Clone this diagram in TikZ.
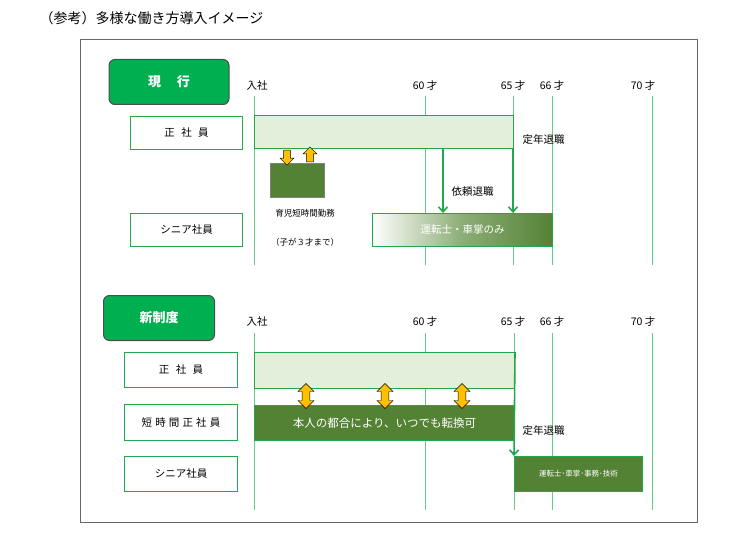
\documentclass[tikz,border=0pt]{standalone}
\usepackage{fontspec}
\setmainfont{Noto Sans CJK JP}
\usetikzlibrary{arrows.meta,shapes.arrows}
\definecolor{hgreen}{HTML}{00B050}
\definecolor{lgreen}{HTML}{E2EFDA}
\definecolor{dgreen}{HTML}{548235}
\definecolor{bgreen}{HTML}{22A84A}
\definecolor{vgreen}{HTML}{66CC88}
\definecolor{orng}{HTML}{FFC000}
\tikzset{
  head/.style = {draw=black!70, line width=1pt, fill=hgreen, rounded corners=6pt, text=white, font=\bfseries\fontsize{13}{13}\selectfont},
  role/.style = {draw=bgreen, line width=1pt, fill=white, font=\fontsize{10.5}{10.5}\selectfont, anchor=north west, inner sep=0pt},
  age/.style = {font=\fontsize{10.5}{10.5}\selectfont},
  tick/.style = {vgreen, line width=1pt},
  flow/.style = {bgreen, line width=1.6pt, -{Straight Barb[length=5pt,width=9pt]}},
  uarr/.style = {single arrow, draw=black, fill=orng, shape border rotate=90, minimum height=15pt, minimum width=14pt, single arrow head extend=3pt, inner sep=2.5pt},
  darr/.style = {double arrow, draw=black, fill=orng, shape border rotate=90, minimum height=25pt, minimum width=16pt, double arrow head extend=3.5pt, inner sep=3pt},
}
\begin{document}
\begin{tikzpicture}[x=1pt, y=-1pt]
\useasboundingbox (0,0) rectangle (754,556);
% title
\node[anchor=west, font=\fontsize{14}{14}\selectfont] (title) at (36,18) {（参考）多様な働き方導入イメージ};
\draw[black!60, line width=1pt] (80,40) rectangle (697,522);

% ---- current system
\node[head, minimum width=120pt, minimum height=45pt] (cur) at (169,82) {現\hspace{1.2em}行};
\foreach \x in {254,425,513,552,652} \draw[tick] (\x,96) -- (\x,265);
\node[age] (c0) at (257,86) {入社};
\node[age] (c60) at (425,86) {60 才};
\node[age] (c65) at (513,86) {65 才};
\node[age] (c66) at (552,86) {66 才};
\node[age] (c70) at (643,86) {70 才};
\node[role, minimum width=112pt, minimum height=33pt] (cseisha) at (130,116) {正\hspace{.6em}社\hspace{.6em}員};
\node[role, minimum width=112pt, minimum height=33pt] (csenior) at (130,213) {シニア社員};
\node[draw=bgreen, line width=1pt, fill=lgreen, anchor=north west, minimum width=259pt, minimum height=33pt, inner sep=0pt] (cbar) at (254,115) {};
\node[draw=black!50, fill=dgreen, anchor=north west, minimum width=54pt, minimum height=34pt, inner sep=0pt] (ikuji) at (270,163) {};
\node[uarr, shape border rotate=270] (adown) at (287,156) {};
\node[uarr] (aup) at (310,156) {};
\node[font=\fontsize{8.5}{8.5}\selectfont] (ikujit) at (305,213) {育児短時間勤務};
\node[font=\fontsize{8.5}{8.5}\selectfont] (ikujis) at (305,242) {（子が３才まで）};
\shade[left color=white, right color=dgreen, middle color=lgreen!40!dgreen, draw=bgreen] (372,213) rectangle (552,246);
\node[draw=bgreen, line width=1pt, anchor=north west, minimum width=180pt, minimum height=33pt, inner sep=0pt, text=white, font=\fontsize{10.5}{10.5}\selectfont] (cbar2) at (372,213) {運転士・車掌のみ};
\coordinate (irai) at (443,148);
\coordinate (teinen) at (513,148);
\draw[flow] (irai) -- (irai |- cbar2.north);
\draw[flow] (teinen) -- (teinen |- cbar2.north);
\node[age, anchor=west] (iraitxt) at (448,192) {依頼退職};
\node[age, anchor=west] (teitxt) at (519,140) {定年退職};

% ---- new system
\node[head, minimum width=111pt, minimum height=45pt] (new) at (159,318) {新制度};
\foreach \x in {254,425,552,652} \draw[tick] (\x,333) -- (\x,510);
\draw[tick] (514,333) -- (514,352);
\draw[tick] (514,491) -- (514,510);
\node[age] (n0) at (257,322) {入社};
\node[age] (n60) at (425,322) {60 才};
\node[age] (n65) at (513,322) {65 才};
\node[age] (n66) at (552,322) {66 才};
\node[age] (n70) at (643,322) {70 才};
\node[role, minimum width=113pt, minimum height=35pt] (nseisha) at (124,352) {正\hspace{.6em}社\hspace{.6em}員};
\node[role, minimum width=113pt, minimum height=36pt] (ntanji) at (124,404) {短\hspace{.3em}時\hspace{.3em}間\hspace{.3em}正\hspace{.3em}社\hspace{.3em}員};
\node[role, minimum width=113pt, minimum height=35pt] (nsenior) at (124,456) {シニア社員};
\node[draw=bgreen, line width=1pt, fill=lgreen, anchor=north west, minimum width=260pt, minimum height=36pt, inner sep=0pt] (nbar) at (254,352) {};
\node[draw=bgreen, line width=1pt, fill=dgreen, anchor=north west, minimum width=260pt, minimum height=35pt, inner sep=0pt, text=white, font=\fontsize{11.5}{11.5}\selectfont] (tbar) at (254,405) {本人の都合により、いつでも転換可};
\foreach \x/\n in {306/a,385/b,462/c} \node[darr] (dd\n) at (\x,396) {};
\node[draw=bgreen, line width=1pt, fill=dgreen, anchor=north west, minimum width=128pt, minimum height=35pt, inner sep=0pt, text=white, font=\fontsize{7.5}{7.5}\selectfont] (sbar) at (514,456) {運転士･車掌･事務･技術};
\draw[flow] (nbar.north east) -- (sbar.north west);
\node[age, anchor=west] (nteitxt) at (519,431) {定年退職};
\end{tikzpicture}
\end{document}
